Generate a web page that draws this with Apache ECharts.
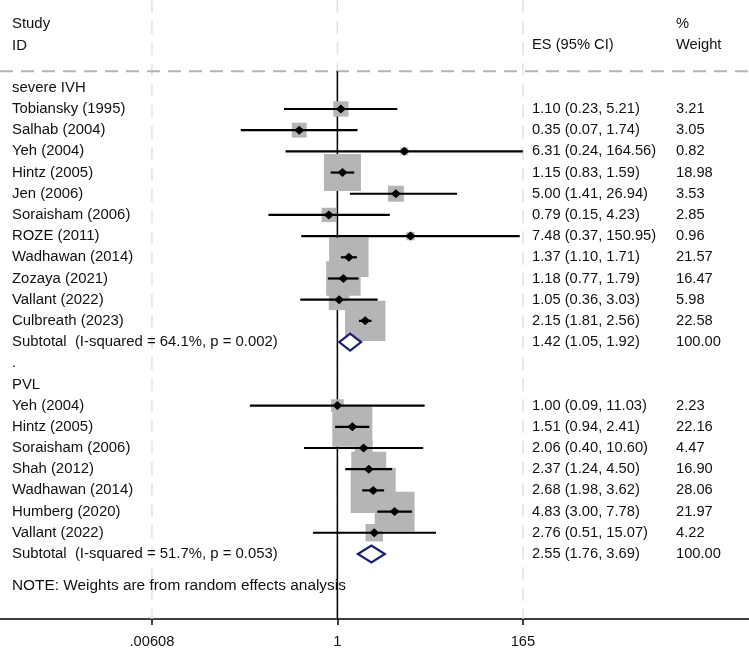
<!DOCTYPE html>
<html>
<head>
<meta charset="utf-8">
<script src="https://cdn.jsdelivr.net/npm/echarts@6.0.0/dist/echarts.min.js"></script>
<style>
  html, body { margin: 0; padding: 0; background: #fff; }
  #chart-container { width: 749px; height: 650px; }
</style>
</head>
<body>
<div id="chart-container"></div>
<script>
// severe IVH
var ivhStudies = ["Tobiansky (1995)", "Salhab (2004)", "Yeh (2004)", "Hintz (2005)", "Jen (2006)",
  "Soraisham (2006)", "ROZE (2011)", "Wadhawan (2014)", "Zozaya (2021)", "Vallant (2022)", "Culbreath (2023)"];
var ivhES = [1.10, 0.35, 6.31, 1.15, 5.00, 0.79, 7.48, 1.37, 1.18, 1.05, 2.15];
var ivhLower = [0.23, 0.07, 0.24, 0.83, 1.41, 0.15, 0.37, 1.10, 0.77, 0.36, 1.81];
var ivhUpper = [5.21, 1.74, 164.56, 1.59, 26.94, 4.23, 150.95, 1.71, 1.79, 3.03, 2.56];
var ivhWeight = [3.21, 3.05, 0.82, 18.98, 3.53, 2.85, 0.96, 21.57, 16.47, 5.98, 22.58];
var ivhSubtotal = [1.42, 1.05, 1.92, 100.00];
var ivhHet = "I-squared = 64.1%, p = 0.002";

// PVL
var pvlStudies = ["Yeh (2004)", "Hintz (2005)", "Soraisham (2006)", "Shah (2012)", "Wadhawan (2014)",
  "Humberg (2020)", "Vallant (2022)"];
var pvlES = [1.00, 1.51, 2.06, 2.37, 2.68, 4.83, 2.76];
var pvlLower = [0.09, 0.94, 0.40, 1.24, 1.98, 3.00, 0.51];
var pvlUpper = [11.03, 2.41, 10.60, 4.50, 3.62, 7.78, 15.07];
var pvlWeight = [2.23, 22.16, 4.47, 16.90, 28.06, 21.97, 4.22];
var pvlSubtotal = [2.55, 1.76, 3.69, 100.00];
var pvlHet = "I-squared = 51.7%, p = 0.053";

var tickValues = [0.00608, 1, 165];
var tickLabels = [".00608", "1", "165"];
var noteText = "NOTE: Weights are from random effects analysis";

var log10 = function (v) { return Math.log(v) / Math.LN10; };
var tickLogs = tickValues.map(log10);
var fmt = function (v) { return v.toFixed(2); };
var ciText = function (e, l, u) { return fmt(e) + " (" + fmt(l) + ", " + fmt(u) + ")"; };

// column x positions (px) and font sizes
var colX = { study: 12, es: 532, weight: 676, note: 12 };
var colFont = { study: 14.9, es: 14.7, weight: 14.7, note: 15.4 };

var studyRows = [];
var subtotalRows = [];
var textCells = [
  { col: "study", row: -3, text: "Study" },
  { col: "study", row: -2, text: "ID" },
  { col: "es", row: -2, text: "ES (95% CI)" },
  { col: "weight", row: -3, text: "%" },
  { col: "weight", row: -2, text: "Weight" }
];
var row = 0;

function addGroup(title, names, es, lo, hi, w, sub, het) {
  textCells.push({ col: "study", row: row, text: title });
  row++;
  names.forEach(function (n, i) {
    studyRows.push([log10(es[i]), log10(lo[i]), log10(hi[i]), w[i], row]);
    textCells.push({ col: "study", row: row, text: n });
    textCells.push({ col: "es", row: row, text: ciText(es[i], lo[i], hi[i]) });
    textCells.push({ col: "weight", row: row, text: fmt(w[i]) });
    row++;
  });
  subtotalRows.push([log10(sub[0]), log10(sub[1]), log10(sub[2]), row]);
  textCells.push({ col: "study", row: row, text: "Subtotal  (" + het + ")" });
  textCells.push({ col: "es", row: row, text: ciText(sub[0], sub[1], sub[2]) });
  textCells.push({ col: "weight", row: row, text: fmt(sub[3]) });
  row++;
}

addGroup("severe IVH", ivhStudies, ivhES, ivhLower, ivhUpper, ivhWeight, ivhSubtotal, ivhHet);
textCells.push({ col: "study", row: row, text: "." });
row++;
addGroup("PVL", pvlStudies, pvlES, pvlLower, pvlUpper, pvlWeight, pvlSubtotal, pvlHet);
textCells.push({ col: "note", row: row + 0.48, text: noteText });

var headerLineRow = -0.78;
var boxScale = 8.5;
var fontFamily = "Liberation Sans, Arial, sans-serif";

var dom = document.getElementById("chart-container");
var myChart = echarts.init(dom, null, { renderer: "canvas" });

var option = {
  animation: false,
  grid: { left: 0, right: 0, top: 0, bottom: 31 },
  xAxis: {
    type: "value",
    min: -4.032,
    max: 4.919,
    position: "bottom",
    splitLine: { show: false },
    axisLine: { show: true, onZero: false, lineStyle: { color: "#000", width: 1.5 } },
    axisTick: {
      show: true,
      customValues: tickLogs,
      length: 6,
      lineStyle: { color: "#000", width: 1.5 }
    },
    axisLabel: {
      customValues: tickLogs,
      margin: 15,
      color: "#111",
      fontFamily: fontFamily,
      fontSize: 14.7,
      formatter: function (v) {
        for (var i = 0; i < tickLogs.length; i++) {
          if (Math.abs(tickLogs[i] - v) < 1e-6) return tickLabels[i];
        }
        return "";
      }
    }
  },
  yAxis: {
    type: "value",
    inverse: true,
    min: -4.143,
    max: 25.07,
    show: false
  },
  series: [
    {
      // light dashed grid lines at the tick values
      type: "custom",
      data: tickLogs.map(function (t) { return [t, 0]; }),
      encode: { x: 0, y: 1 },
      z: 1,
      renderItem: function (params, api) {
        var cs = params.coordSys;
        var x = api.coord([api.value(0), 0])[0];
        return {
          type: "line",
          shape: { x1: x, y1: cs.y, x2: x, y2: cs.y + cs.height },
          style: { stroke: "#e2e2e2", lineWidth: 1.5, lineDash: [13, 8] }
        };
      }
    },
    {
      // header separator and line of no effect
      type: "custom",
      data: [[0, headerLineRow]],
      encode: { x: 0, y: 1 },
      z: 2,
      renderItem: function (params, api) {
        var cs = params.coordSys;
        var p = api.coord([api.value(0), api.value(1)]);
        return {
          type: "group",
          children: [
            {
              type: "line",
              shape: { x1: cs.x, y1: p[1], x2: cs.x + cs.width, y2: p[1] },
              style: { stroke: "#b4b4b4", lineWidth: 2, lineDash: [13, 8] }
            },
            {
              type: "line",
              shape: { x1: p[0], y1: p[1], x2: p[0], y2: cs.y + cs.height },
              style: { stroke: "#000", lineWidth: 1.5 }
            }
          ]
        };
      }
    },
    {
      // weight boxes
      type: "custom",
      data: studyRows,
      encode: { x: 0, y: 4 },
      z: 3,
      renderItem: function (params, api) {
        var p = api.coord([api.value(0), api.value(4)]);
        var s = boxScale * Math.sqrt(api.value(3));
        return {
          type: "rect",
          shape: { x: p[0] - s / 2, y: p[1] - s / 2, width: s, height: s },
          style: { fill: "#b5b5b5" }
        };
      }
    },
    {
      // confidence intervals and point estimates
      type: "custom",
      data: studyRows,
      encode: { x: [0, 1, 2], y: 4 },
      z: 4,
      renderItem: function (params, api) {
        var r = api.value(4);
        var p = api.coord([api.value(0), r]);
        var lo = api.coord([api.value(1), r]);
        var hi = api.coord([api.value(2), r]);
        return {
          type: "group",
          children: [
            {
              type: "line",
              shape: { x1: lo[0], y1: lo[1], x2: hi[0], y2: hi[1] },
              style: { stroke: "#000", lineWidth: 2.2 }
            },
            {
              type: "polygon",
              shape: { points: [[p[0] - 5, p[1]], [p[0], p[1] - 4.5], [p[0] + 5, p[1]], [p[0], p[1] + 4.5]] },
              style: { fill: "#000" }
            }
          ]
        };
      }
    },
    {
      // subtotal diamonds
      type: "custom",
      data: subtotalRows,
      encode: { x: [0, 1, 2], y: 3 },
      z: 5,
      renderItem: function (params, api) {
        var r = api.value(3);
        var p = api.coord([api.value(0), r]);
        var lo = api.coord([api.value(1), r]);
        var hi = api.coord([api.value(2), r]);
        var h = 8.5;
        return {
          type: "polygon",
          shape: { points: [[lo[0], p[1]], [p[0], p[1] - h], [hi[0], p[1]], [p[0], p[1] + h]] },
          style: { fill: "#fff", stroke: "#1b1f74", lineWidth: 2.2 }
        };
      }
    },
    {
      // text columns
      type: "custom",
      data: textCells.map(function (c) { return [0, c.row]; }),
      encode: { x: 0, y: 1 },
      z: 6,
      renderItem: function (params, api) {
        var c = textCells[params.dataIndex];
        var y = api.coord([0, api.value(1)])[1];
        return {
          type: "text",
          style: {
            text: c.text,
            x: colX[c.col],
            y: y,
            align: "left",
            verticalAlign: "middle",
            fill: "#111",
            fontFamily: fontFamily,
            fontSize: colFont[c.col]
          }
        };
      }
    }
  ]
};

myChart.setOption(option);
window.addEventListener("resize", myChart.resize);
</script>
</body>
</html>
